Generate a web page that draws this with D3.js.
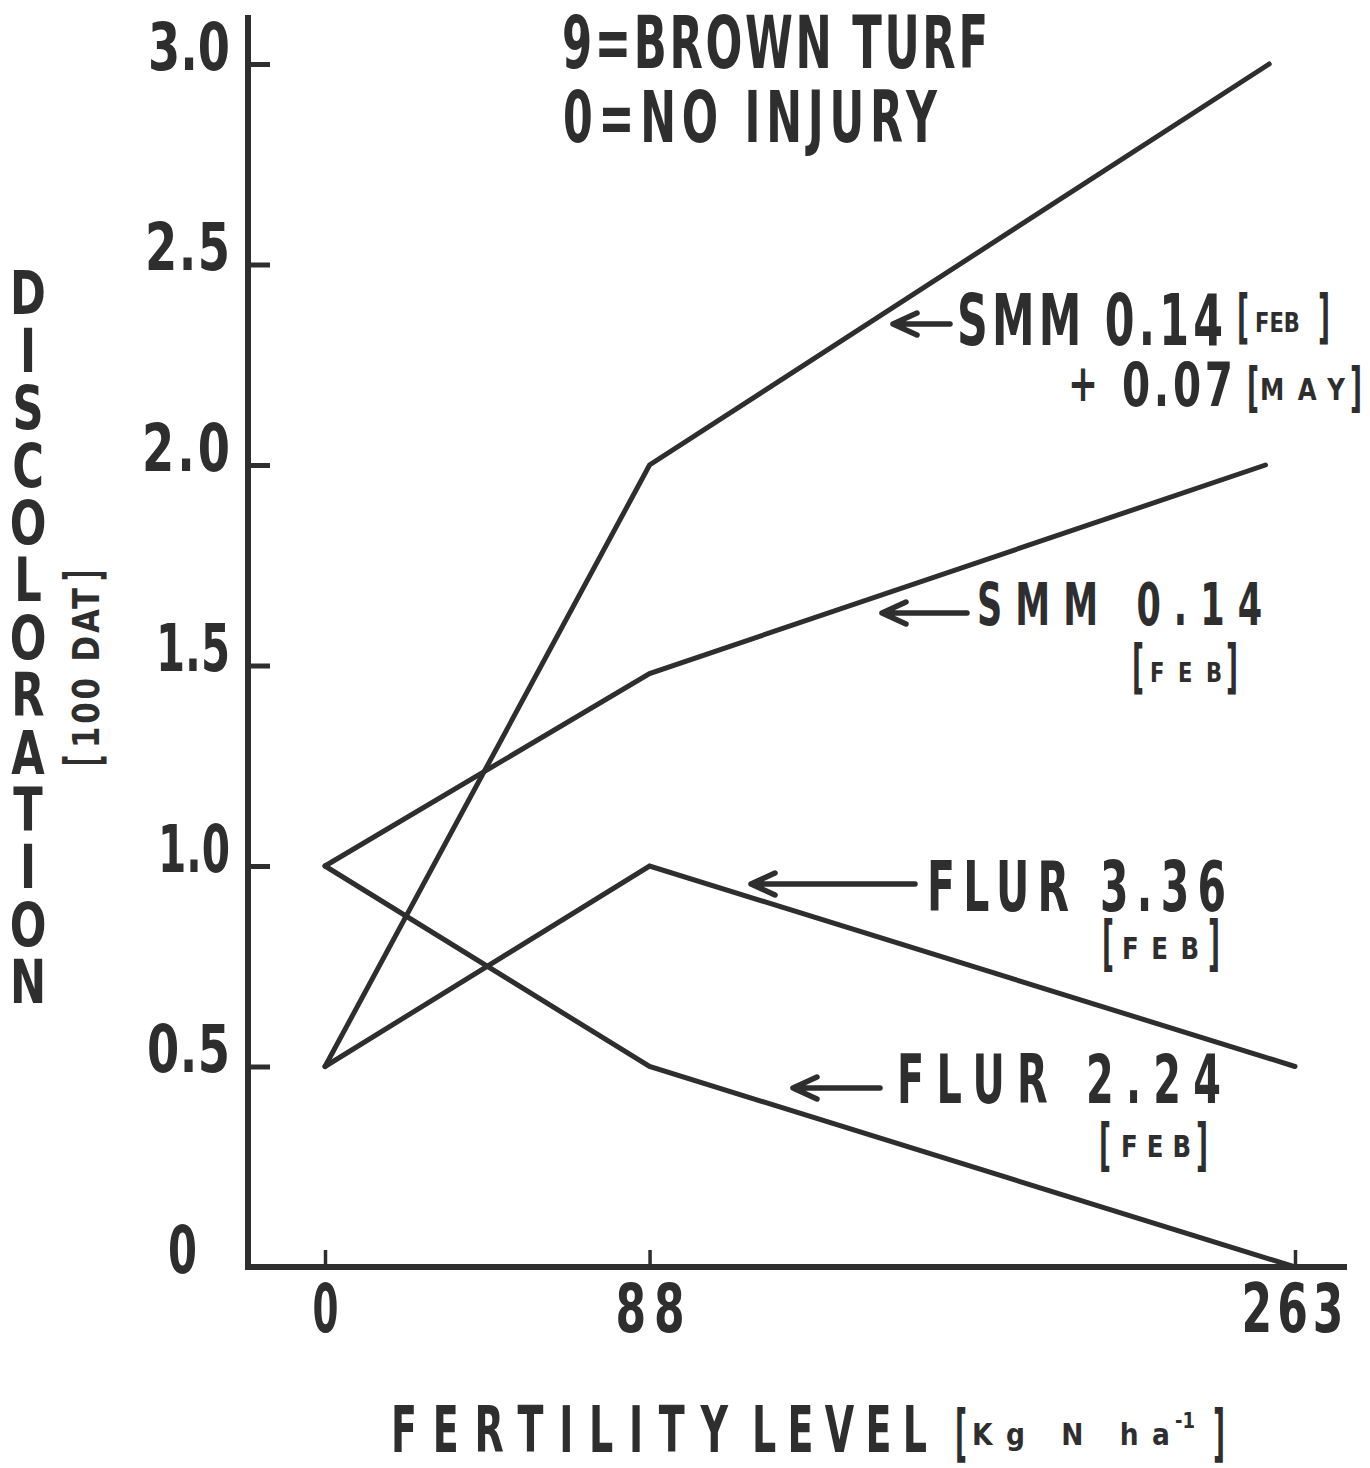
<!DOCTYPE html>
<html><head><meta charset="utf-8">
<script src="https://cdn.jsdelivr.net/npm/d3@7"></script>
<style>body{margin:0;background:#fff}svg{display:block}</style>
</head><body>
<svg id="chart" width="1370" height="1468"></svg>
<script>
// ---------------- data ----------------
const fertilityTicks = [0, 88, 263];
const discolorTicks = [0, 0.5, 1.0, 1.5, 2.0, 2.5, 3.0];
const discolorTickLabels = ["0", "0.5", "1.0", "1.5", "2.0", "2.5", "3.0"];
const smmFebMayX = [0, 88, 256];
const smmFebMayY = [0.5, 2.0, 3.0];
const smmFebX = [0, 88, 255];
const smmFebY = [1.0, 1.48, 2.0];
const flur336X = [0, 88, 263];
const flur336Y = [0.5, 1.0, 0.5];
const flur224X = [0, 88, 263];
const flur224Y = [1.0, 0.5, 0.0];
const legendLines = ["9=BROWN TURF", "0=NO INJURY"];
const yTitle = "DISCOLORATION";
const yUnit = "100 DAT";
const xTitle = ["FERTILITY", "LEVEL"];
const xUnit = ["Kg N ha", "-1"];

// ---------------- layout / style ----------------
const INK = "#2e2e2e";
const FONT = "'Liberation Sans Narrow','DejaVu Sans Condensed','Liberation Sans',sans-serif";
const svg = d3.select("#chart");
svg.append("rect").attr("width", 1370).attr("height", 1468).attr("fill", "#fff");

const x = d3.scaleLinear().domain([0, 263]).range([325, 1295]);
const y = d3.scaleLinear().domain([0, 3]).range([1267, 64]);

// squeeze glyphs with a transform (never compress via textLength), spread with spacing
function fitNode(t, x0, y0, w, sx) {
  const nat = t.node().getComputedTextLength();
  const s = Math.min(sx, w / nat);
  t.attr("x", 0).attr("transform", `translate(${x0},${y0}) scale(${s},1)`);
  if (w / s > nat + 1) t.attr("textLength", w / s).attr("lengthAdjust", "spacing");
}
function txt(s, o, parent) {
  const t = (parent || svg).append("text").text(s)
    .attr("font-family", FONT).attr("font-weight", "bold")
    .attr("font-size", o.fs).attr("fill", INK)
    .attr("text-anchor", o.anchor || "start");
  fitNode(t, o.x, o.y, o.w, o.sx || 0.66);
  return t;
}
// bracket glyphs as real text, narrowed so hooks stay short
function brackets(l, r, top, bot, parent) {
  const bfs = (bot - top) / 0.9;
  const base = top + 0.76 * bfs;
  txt("[", {x: l, y: base, fs: bfs, w: 12, sx: 0.55}, parent);
  txt("]", {x: r, y: base, fs: bfs, w: 12, sx: 0.55, anchor: "end"}, parent);
}

// axis lines
svg.append("line").attr("x1", 248).attr("x2", 248).attr("y1", 15).attr("y2", 1270)
  .attr("stroke", INK).attr("stroke-width", 6);
svg.append("line").attr("x1", 245).attr("x2", 1347).attr("y1", 1267).attr("y2", 1267)
  .attr("stroke", INK).attr("stroke-width", 6);

// y axis ticks
const yLabelW = {"0": 29, "0.5": 83, "1.0": 72, "1.5": 74, "2.0": 88, "2.5": 85, "3.0": 82};
const gy = svg.append("g").attr("transform", "translate(248,0)")
  .call(d3.axisLeft(y).tickValues(discolorTicks)
    .tickFormat((d, i) => discolorTickLabels[i])
    .tickSizeInner(-22).tickSizeOuter(0).tickPadding(18));
gy.select(".domain").remove();
gy.selectAll(".tick line").attr("stroke", INK).attr("stroke-width", 5);
gy.selectAll(".tick text")
  .attr("font-family", FONT).attr("font-weight", "bold").attr("font-size", 66)
  .attr("fill", INK).attr("dy", "0.08em")
  .each(function (d, i) {
    fitNode(d3.select(this), d === 0 ? -51 : -18, 0, yLabelW[discolorTickLabels[i]], 0.78);
  });

// x axis ticks
const xLabelW = {0: 26, 88: 69, 263: 102};
const gx = svg.append("g").attr("transform", "translate(0,1267)")
  .call(d3.axisBottom(x).tickValues(fertilityTicks).tickFormat(d3.format("d"))
    .tickSizeInner(-17).tickSizeOuter(0).tickPadding(17));
gx.select(".domain").remove();
gx.selectAll(".tick line").attr("stroke", INK).attr("stroke-width", 3.5);
gx.selectAll(".tick text")
  .attr("font-family", FONT).attr("font-weight", "bold").attr("font-size", 68)
  .attr("fill", INK)
  .each(function (d) { fitNode(d3.select(this), d === 263 ? -3 : 0, 0, xLabelW[d], 0.72); });

// series lines
const line = d3.line().x(d => x(d[0])).y(d => y(d[1]));
[[smmFebMayX, smmFebMayY], [smmFebX, smmFebY], [flur336X, flur336Y], [flur224X, flur224Y]]
  .forEach(([xs, ys]) => {
    svg.append("path").datum(d3.zip(xs, ys)).attr("d", line)
      .attr("fill", "none").attr("stroke", INK).attr("stroke-width", 5)
      .attr("stroke-linejoin", "miter").attr("stroke-linecap", "round");
  });

// legend note
txt(legendLines[0], {x: 562, y: 68, fs: 73, w: 426});
txt(legendLines[1], {x: 563, y: 142, fs: 72, w: 374});

// arrows
const arrows = [
  {head: 893, tail: 950, y: 324},
  {head: 882, tail: 967, y: 613},
  {head: 751, tail: 915, y: 884},
  {head: 793, tail: 880, y: 1088}
];
arrows.forEach(a => {
  svg.append("path")
    .attr("d", `M${a.tail},${a.y}L${a.head},${a.y}M${a.head + 24},${a.y - 11}L${a.head},${a.y}L${a.head + 24},${a.y + 11}`)
    .attr("fill", "none").attr("stroke", INK).attr("stroke-width", 5.5)
    .attr("stroke-linecap", "round").attr("stroke-linejoin", "round");
});

// bracketed qualifiers
function qualifier(inner, o) {
  brackets(o.left, o.right, o.top, o.bottom);
  txt(inner, {x: o.innerX, y: o.base, fs: o.cap / 0.73, w: o.innerW, sx: 0.9});
}

// labels
txt("SMM 0.14", {x: 957, y: 345, fs: 72, w: 266});
qualifier("FEB", {left: 1237, right: 1330, top: 292, bottom: 345, cap: 19, base: 332, innerX: 1255, innerW: 45});
txt("+", {x: 1068, y: 401, fs: 52, w: 30, sx: 1});
txt("0.07", {x: 1122, y: 406, fs: 60, w: 111, sx: 0.75});
qualifier("MAY", {left: 1247, right: 1362, top: 365, bottom: 413, cap: 22, base: 400, innerX: 1260, innerW: 85});

txt("SMM 0.14", {x: 977, y: 625, fs: 59, w: 285});
qualifier("FEB", {left: 1132, right: 1238, top: 642, bottom: 695, cap: 19, base: 682, innerX: 1150, innerW: 72});

txt("FLUR 3.36", {x: 927, y: 911, fs: 69, w: 299});
qualifier("FEB", {left: 1102, right: 1220, top: 918, bottom: 972, cap: 22, base: 959, innerX: 1122, innerW: 77});

txt("FLUR 2.24", {x: 897, y: 1103, fs: 67, w: 324});
qualifier("FEB", {left: 1099, right: 1208, top: 1120, bottom: 1172, cap: 22, base: 1157, innerX: 1121, innerW: 70});

// y title (stacked letters)
const yt = svg.append("text").attr("font-family", FONT).attr("font-weight", "bold")
  .attr("font-size", 60).attr("fill", INK).attr("text-anchor", "middle")
  .attr("transform", "translate(28,0) scale(0.8,1)");
yTitle.split("").forEach((c, i) => {
  yt.append("tspan").attr("x", 0).attr("y", 293 + i * 57.4 + 21.5).text(c);
});

// y unit (rotated)
const gu = svg.append("g").attr("transform", "translate(0,766) rotate(-90)");
brackets(0, 196, 63, 107, gu);
txt(yUnit, {x: 18, y: 99, fs: 38, w: 160, sx: 0.9}, gu);

// x title
txt(xTitle[0], {x: 391, y: 1452, fs: 64, w: 337});
txt(xTitle[1], {x: 752, y: 1452, fs: 64, w: 175});
brackets(955, 1225, 1407, 1463);
txt(xUnit[0], {x: 972, y: 1445, fs: 31, w: 198, sx: 0.95});
txt(xUnit[1], {x: 1175, y: 1428, fs: 22, w: 20, sx: 1});
</script>
</body></html>
